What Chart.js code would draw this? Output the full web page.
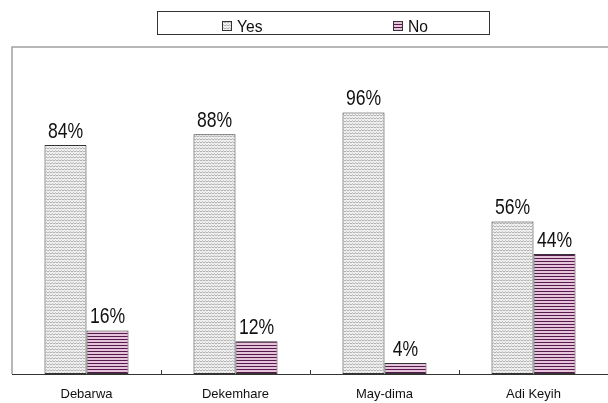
<!DOCTYPE html>
<html>
<head>
<meta charset="utf-8">
<script src="https://cdn.jsdelivr.net/npm/chart.js@4/dist/chart.umd.min.js"></script>
<style>
  html, body { margin: 0; padding: 0; background: #fff; }
  canvas { display: block; }
</style>
</head>
<body>
<canvas id="myChart" width="608" height="403"></canvas>
<script>
const districts = ["Debarwa", "Dekemhare", "May-dima", "Adi Keyih"];
const yesShare = [84, 88, 96, 56];
const noShare = [16, 12, 4, 44];
const seriesNames = ["Yes", "No"];

const labelFont = "Liberation Sans, Arial, sans-serif";

// light grey wavy fill
const makeWavePattern = () => {
  const tile = document.createElement("canvas");
  tile.width = 6;
  tile.height = 3;
  const c = tile.getContext("2d");
  c.fillStyle = "#f2f2f2";
  c.fillRect(0, 0, 6, 3);
  c.strokeStyle = "#9c9c9c";
  c.lineWidth = 0.8;
  c.beginPath();
  c.moveTo(0, 2);
  c.lineTo(1.5, 0.8);
  c.lineTo(3, 2);
  c.lineTo(4.5, 0.8);
  c.lineTo(6, 2);
  c.stroke();
  return c.createPattern(tile, "repeat");
};

// purple horizontal stripes
const makeStripePattern = () => {
  const tile = document.createElement("canvas");
  tile.width = 2;
  tile.height = 3;
  const c = tile.getContext("2d");
  c.fillStyle = "#e6c4dc";
  c.fillRect(0, 0, 2, 3);
  c.fillStyle = "#561a4c";
  c.fillRect(0, 0, 2, 1);
  return c.createPattern(tile, "repeat");
};

const ctx = document.querySelector("#myChart").getContext("2d");
const wavePattern = makeWavePattern();
const stripePattern = makeStripePattern();
const fills = [wavePattern, stripePattern];

// narrow, tall text like the old office fonts
const narrowText = (c, text, x, y, size, squeeze) => {
  c.save();
  c.font = size + "px " + labelFont;
  c.translate(x, y);
  c.scale(squeeze, 1);
  c.fillText(text, 0, 0);
  c.restore();
};

const framePlugin = {
  id: "frame",
  beforeDraw: (chart) => {
    const c = chart.ctx;
    const { left, top, bottom } = chart.chartArea;
    c.save();
    c.strokeStyle = "#a0a0a0";
    c.lineWidth = 1.5;
    c.beginPath();
    c.moveTo(left, bottom);
    c.lineTo(left, top);
    c.lineTo(612, top);
    c.stroke();
    c.restore();
  },
  afterDraw: (chart) => {
    const c = chart.ctx;
    const xs = chart.scales.x;
    const bottom = chart.chartArea.bottom;
    c.save();
    // small inward ticks between categories
    c.strokeStyle = "#333";
    c.lineWidth = 1;
    for (let i = 1; i < districts.length; i++) {
      const px = Math.round((xs.getPixelForValue(i - 1) + xs.getPixelForValue(i)) / 2) + 0.5;
      c.beginPath();
      c.moveTo(px, bottom);
      c.lineTo(px, bottom - 4);
      c.stroke();
    }

    // legend box
    c.strokeStyle = "#333";
    c.strokeRect(157.5, 11.5, 332, 23);
    const swatchX = [222, 393];
    seriesNames.forEach((name, i) => {
      c.fillStyle = fills[i];
      c.fillRect(swatchX[i], 21, 10, 10);
      c.strokeStyle = "#333";
      c.strokeRect(swatchX[i] + 0.5, 21.5, 9, 9);
      c.fillStyle = "#111";
      c.textAlign = "left";
      c.textBaseline = "alphabetic";
      narrowText(c, name, swatchX[i] + 15, 32, 17, 0.92);
    });
    c.restore();
  },
  afterDatasetsDraw: (chart) => {
    const c = chart.ctx;
    c.save();
    c.fillStyle = "#111";
    c.textAlign = "center";
    c.textBaseline = "alphabetic";
    chart.data.datasets.forEach((ds, di) => {
      chart.getDatasetMeta(di).data.forEach((bar, i) => {
        narrowText(c, ds.data[i] + "%", bar.x, bar.y - 7, 22, 0.8);
      });
    });
    c.restore();
  },
};

new Chart(ctx, {
  type: "bar",
  data: {
    labels: districts,
    datasets: [
      {
        label: seriesNames[0],
        data: yesShare,
        backgroundColor: wavePattern,
        borderColor: "#333",
        borderWidth: 1,
        borderSkipped: false,
      },
      {
        label: seriesNames[1],
        data: noShare,
        backgroundColor: stripePattern,
        borderColor: "#333",
        borderWidth: 1,
        borderSkipped: false,
      },
    ],
  },
  options: {
    responsive: false,
    animation: false,
    events: [],
    datasets: {
      bar: { barPercentage: 1, categoryPercentage: 0.564 },
    },
    layout: { padding: { left: 12, top: 47, right: 0, bottom: 0 } },
    plugins: {
      legend: { display: false },
      tooltip: { enabled: false },
    },
    scales: {
      y: { display: false, min: 0, max: 120 },
      x: {
        afterFit: (scale) => {
          scale.height = 29;
        },
        grid: { display: false },
        border: { display: true, color: "#333", width: 1 },
        ticks: {
          color: "#111",
          padding: 5,
          maxRotation: 0,
          font: { family: labelFont, size: 13 },
        },
      },
    },
  },
  plugins: [framePlugin],
});
</script>
</body>
</html>
